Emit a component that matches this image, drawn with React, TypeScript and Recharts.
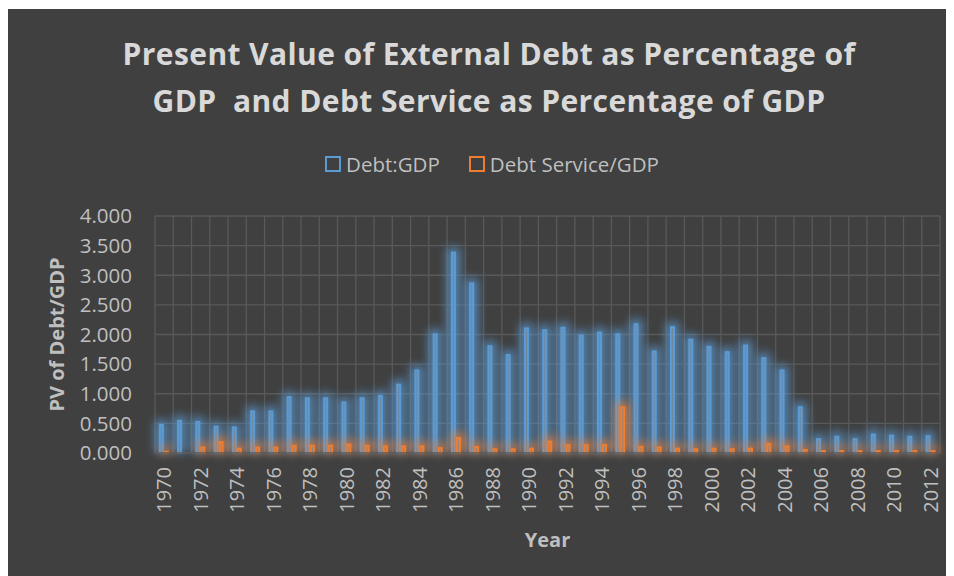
import React from 'react';
import { BarChart, Bar, XAxis, YAxis, CartesianGrid } from 'recharts';

const years = [
  '1970', '1971', '1972', '1973', '1974', '1975', '1976', '1977', '1978', '1979',
  '1980', '1981', '1982', '1983', '1984', '1985', '1986', '1987', '1988', '1989',
  '1990', '1991', '1992', '1993', '1994', '1995', '1996', '1997', '1998', '1999',
  '2000', '2001', '2002', '2003', '2004', '2005', '2006', '2007', '2008', '2009',
  '2010', '2011', '2012',
];

const debtGdp = [
  0.49, 0.56, 0.54, 0.46, 0.45, 0.72, 0.72, 0.96, 0.94, 0.94,
  0.87, 0.94, 0.98, 1.17, 1.41, 2.02, 3.4, 2.88, 1.82, 1.67,
  2.12, 2.09, 2.13, 2.0, 2.05, 2.02, 2.19, 1.73, 2.14, 1.93,
  1.81, 1.72, 1.83, 1.62, 1.41, 0.79, 0.25, 0.29, 0.25, 0.33,
  0.31, 0.29, 0.3,
];

const debtService = [
  0.04, 0, 0.11, 0.2, 0.09, 0.11, 0.11, 0.14, 0.14, 0.14,
  0.16, 0.14, 0.13, 0.13, 0.13, 0.1, 0.27, 0.12, 0.08, 0.08,
  0.09, 0.21, 0.15, 0.15, 0.15, 0.79, 0.12, 0.11, 0.09, 0.08,
  0.09, 0.08, 0.09, 0.17, 0.13, 0.07, 0.05, 0.05, 0.05, 0.05,
  0.05, 0.05, 0.05,
];

const yTicks = [0, 0.5, 1, 1.5, 2, 2.5, 3, 3.5, 4];

const data = years.map((year, i) => ({
  year,
  debt: debtGdp[i],
  service: debtService[i],
}));

const BLUE = '#5B9BD5';
const ORANGE = '#ED7D31';
const FONT = '"Open Sans", sans-serif';
const W = 946;
const H = 567;

// outlined bar with a soft glow behind it
const GlowBar = (props: any) => {
  const { x, y, width, height, fill } = props;
  if (!height || height <= 0) return null;
  return (
    <g>
      <rect
        x={x - 4}
        y={y - 4}
        width={width + 8}
        height={height + 4}
        fill={fill}
        opacity={0.75}
        filter="url(#barGlow)"
      />
      <rect
        x={x + 1}
        y={y + 1}
        width={Math.max(width - 2, 0)}
        height={Math.max(height - 1, 0)}
        fill="#8c939b"
        fillOpacity={0.55}
        stroke={fill}
        strokeWidth={2}
      />
    </g>
  );
};

const YearTick = (props: any) => {
  const { x, y, payload } = props;
  return (
    <g transform={`translate(${x},${y + 6})`}>
      <text
        transform="rotate(-90)"
        textAnchor="end"
        dy="0.35em"
        fill="#bfbfbf"
        fontSize={20}
        fontFamily={FONT}
      >
        {payload.value}
      </text>
    </g>
  );
};

const LegendItem = ({ color, label }: { color: string; label: string }) => (
  <div style={{ display: 'flex', alignItems: 'center' }}>
    <span
      style={{
        display: 'inline-block',
        width: 12,
        height: 12,
        border: `2px solid ${color}`,
        marginRight: 5,
      }}
    />
    <span>{label}</span>
  </div>
);

export default function App() {
  return (
    <div
      style={{
        position: 'relative',
        width: W,
        height: H,
        marginTop: 1,
        background: '#404040',
        fontFamily: FONT,
      }}
    >
      <div
        style={{
          position: 'absolute',
          top: 21,
          left: 8,
          width: W,
          textAlign: 'center',
          color: '#d9d9d9',
          fontSize: 30,
          letterSpacing: 0.4,
          fontWeight: 700,
          lineHeight: '47px',
        }}
      >
        Present Value of External Debt as Percentage of
        <br />
        GDP&nbsp; and Debt Service as Percentage of GDP
      </div>

      <div
        style={{
          position: 'absolute',
          top: 145,
          left: 11,
          width: W,
          display: 'flex',
          justifyContent: 'center',
          gap: 29,
          color: '#bfbfbf',
          fontSize: 20.5,
          lineHeight: '20px',
        }}
      >
        <LegendItem color={BLUE} label="Debt:GDP" />
        <LegendItem color={ORANGE} label="Debt Service/GDP" />
      </div>

      <BarChart
        width={W}
        height={H}
        data={data}
        margin={{ top: 207, right: 14, left: 0, bottom: 0 }}
        barCategoryGap="21%"
        barGap={0}
        style={{ position: 'absolute', top: 0, left: 0 }}
      >
        <defs>
          <filter
            id="barGlow"
            filterUnits="userSpaceOnUse"
            x="0"
            y="0"
            width={W}
            height={H}
          >
            <feGaussianBlur stdDeviation="5" />
          </filter>
        </defs>
        <CartesianGrid
          stroke="#595959"
          strokeWidth={1.3}
          verticalCoordinatesGenerator={(p: any) => {
            const off = p.offset;
            return Array.from(
              { length: years.length + 1 },
              (_, i) => off.left + (i * off.width) / years.length
            );
          }}
        />
        <XAxis
          dataKey="year"
          interval={1}
          height={123}
          tick={<YearTick />}
          tickLine={false}
          axisLine={{ stroke: '#595959', strokeWidth: 1.3 }}
          label={(p: any) => {
            const vb = p.viewBox;
            return (
              <text
                x={vb.x + vb.width / 2}
                y={538}
                textAnchor="middle"
                fill="#bfbfbf"
                fontSize={20}
                fontWeight={700}
                fontFamily={FONT}
              >
                Year
              </text>
            );
          }}
        />
        <YAxis
          type="number"
          domain={[0, 4]}
          ticks={yTicks}
          width={147}
          tickFormatter={(v: number) => v.toFixed(3)}
          tick={{ fill: '#bfbfbf', fontSize: 20.5, fontFamily: FONT }}
          tickMargin={17}
          tickLine={false}
          axisLine={false}
          label={(p: any) => {
            const vb = p.viewBox;
            const cx = 49;
            const cy = vb.y + vb.height / 2;
            return (
              <text
                x={cx}
                y={cy}
                transform={`rotate(-90 ${cx} ${cy})`}
                textAnchor="middle"
                dy="0.35em"
                fill="#bfbfbf"
                fontSize={20}
                fontWeight={700}
                fontFamily={FONT}
              >
                PV of Debt/GDP
              </text>
            );
          }}
        />
        <Bar
          dataKey="debt"
          name="Debt:GDP"
          fill={BLUE}
          shape={<GlowBar />}
          isAnimationActive={false}
        />
        <Bar
          dataKey="service"
          name="Debt Service/GDP"
          fill={ORANGE}
          shape={<GlowBar />}
          isAnimationActive={false}
        />
      </BarChart>
    </div>
  );
}
